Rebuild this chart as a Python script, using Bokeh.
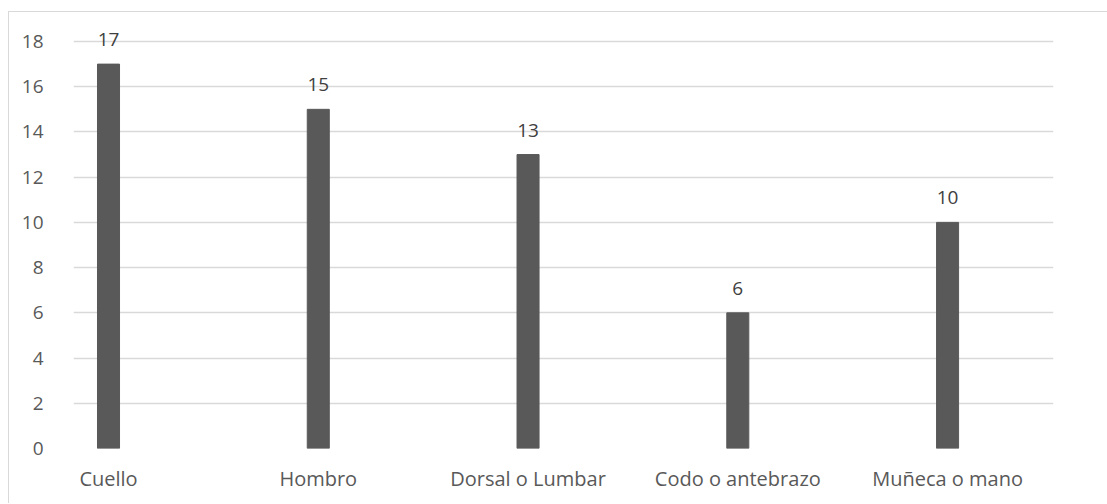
from bokeh.plotting import figure
from bokeh.models import ColumnDataSource, Range1d, FixedTicker, LabelSet
from bokeh.core.properties import value
from bokeh.embed import file_html
from bokeh.resources import INLINE

categories = ["Cuello", "Hombro", "Dorsal o Lumbar", "Codo o antebrazo", "Muñeca o mano"]
values = [17, 15, 13, 6, 10]
y_ticks = [0, 2, 4, 6, 8, 10, 12, 14, 16, 18]

xs = list(range(len(categories)))
src = ColumnDataSource(dict(x=xs, top=values, label=[str(v) for v in values]))

TEXT = "#595959"
GRID = "#d9d9d9"

p = figure(width=1099, height=492, output_backend="svg", toolbar_location=None,
           x_range=Range1d(-0.1669, 4.505), y_range=Range1d(0, 18.929),
           min_border_left=64, min_border_right=55, min_border_top=8, min_border_bottom=56)
p.styles = {"margin-left": "8px", "margin-top": "11px",
            "border-left": "1px solid #d9d9d9", "border-top": "1px solid #d9d9d9"}
p.outline_line_color = None
p.background_fill_color = "white"
p.border_fill_color = "white"

p.vbar(x="x", top="top", width=0.105, source=src, color="#595959")

labels = LabelSet(x="x", y="top", text="label", source=src, text_align="center",
                  text_baseline="alphabetic", y_offset=18, text_font=value("Open Sans"),
                  text_font_size=value("19px"), text_color=value("#404040"))
p.add_layout(labels)

p.xgrid.grid_line_color = None
p.ygrid.grid_line_color = GRID
p.ygrid.grid_line_width = 1.3
p.ygrid.ticker = FixedTicker(ticks=y_ticks)

p.yaxis.ticker = FixedTicker(ticks=y_ticks)
p.yaxis.axis_line_color = None
p.yaxis.major_tick_line_color = None
p.yaxis.minor_tick_line_color = None
p.yaxis.major_label_standoff = 24
p.yaxis.major_label_text_font = "Open Sans"
p.yaxis.major_label_text_font_size = "19px"
p.yaxis.major_label_text_color = TEXT

p.xaxis.ticker = FixedTicker(ticks=xs)
p.xaxis.major_label_overrides = {i: c for i, c in enumerate(categories)}
p.xaxis.axis_line_color = None
p.xaxis.major_tick_line_color = None
p.xaxis.minor_tick_line_color = None
p.xaxis.major_label_standoff = 10
p.xaxis.major_label_text_font = "Open Sans"
p.xaxis.major_label_text_font_size = "20px"
p.xaxis.major_label_text_color = TEXT

open("out.html", "w").write(file_html(p, INLINE))
